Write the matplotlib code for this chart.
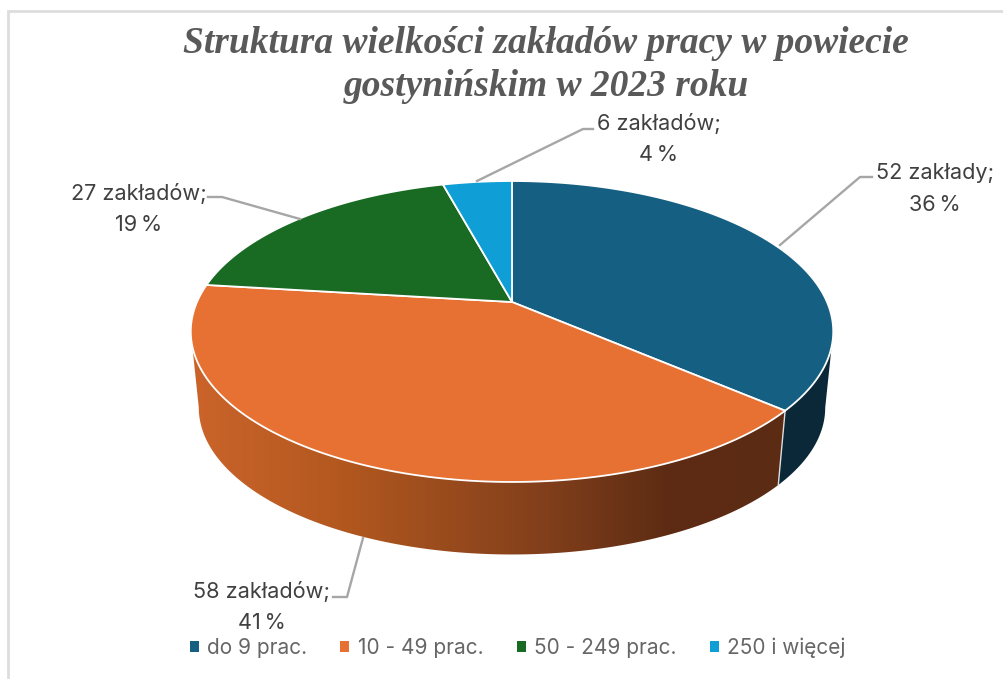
import numpy as np
import matplotlib
matplotlib.use("Agg")
import matplotlib.pyplot as plt
from matplotlib.patches import Polygon, Patch
from matplotlib.colors import LinearSegmentedColormap

categories = ["do 9 prac.", "10 - 49 prac.", "50 - 249 prac.", "250 i więcej"]
counts = [52, 58, 27, 6]
count_labels = ["52 zakłady;", "58 zakładów;", "27 zakładów;", "6 zakładów;"]
percents = [36, 41, 19, 4]
colors = ["#156082", "#E67132", "#196B24", "#0F9ED5"]
title = "Struktura wielkości zakładów pracy w powiecie\ngostynińskim w 2023 roku"

FONT = "Inter"
W, H = 1004, 679
fig = plt.figure(figsize=(W / 100, H / 100), dpi=100, facecolor="white")
ax = fig.add_axes([0, 0, 1, 1])
ax.set_xlim(0, W)
ax.set_ylim(H, 0)
ax.axis("off")

# perspective projection of the unit disc
CX, CY, BX, BY, P = 512, 302, 315, 144.7, 0.196
SHRINK, DEPTH = 0.975, 77


def top(theta):
    u, v = np.sin(theta), np.cos(theta)
    d = 1 + P * v
    return CX + BX * u / d, CY - BY * v / d


def bottom(theta):
    x, y = top(theta)
    return CX + (x - CX) * SHRINK, CY + DEPTH + (y - CY) * SHRINK


edges = np.cumsum([0] + counts) / sum(counts) * 2 * np.pi

# frame
ax.plot([8, 8, W], [H, 11, 11], color="#dddddd", lw=2, solid_joinstyle="miter", zorder=1)

# side walls: only the front part of the rim is visible
VIS_R = np.arccos(-P)
VIS_L = 2 * np.pi - VIS_R
orange_cmap = LinearSegmentedColormap.from_list(
    "wall", [(0, "#cb642b"), (0.25, "#b2581f"), (0.58, "#823f1b"), (0.78, "#5e2c14"), (1, "#5c2b13")])
wall_colors = ["#0a2838", None, "#0d3613", "#084f6b"]
for i in range(len(counts)):
    lo, hi = max(edges[i], VIS_R), min(edges[i + 1], VIS_L)
    if lo >= hi:
        continue
    th = np.linspace(lo, hi, 300)
    xt, yt = top(th)
    xb, yb = bottom(th)
    pts = np.column_stack([np.r_[xt, xb[::-1]], np.r_[yt, yb[::-1]]])
    if wall_colors[i] is None:
        poly = Polygon(pts, closed=True, fc="none", ec="none", transform=ax.transData)
        ax.add_patch(poly)
        grad = np.linspace(0, 1, 256).reshape(1, -1)
        im = ax.imshow(grad, cmap=orange_cmap, aspect="auto", extent=(190, 800, 580, 280), zorder=2)
        im.set_clip_path(poly)
    else:
        ax.add_patch(Polygon(pts, closed=True, fc=wall_colors[i], ec="none", zorder=2))

# seam between the dark and the orange wall
sx, sy = top(edges[1])
bx, by = bottom(edges[1])
ax.plot([sx, bx], [sy, by], color="#dddddd", lw=1.0, zorder=3)
ax.set_xlim(0, W)
ax.set_ylim(H, 0)

# top faces
for i in range(len(counts)):
    th = np.linspace(edges[i], edges[i + 1], 300)
    xt, yt = top(th)
    pts = np.column_stack([np.r_[CX, xt], np.r_[CY, yt]])
    ax.add_patch(Polygon(pts, closed=True, fc=colors[i], ec="white", lw=1.3,
                         joinstyle="round", zorder=4))

# data labels and leader lines
label_pos = [(935, 189), (262, 607), (139, 209), (659, 139)]
leaders = [
    [(780, 245), (860, 177), (872, 177)],
    [(363, 538), (347, 597), (333, 597)],
    [(300, 219), (222, 197), (208, 197)],
    [(477, 181), (583, 129), (593, 129)],
]
for c, p, pos, l in zip(count_labels, percents, label_pos, leaders):
    ax.text(pos[0], pos[1], f"{c}\n{p}\u2009%", ha="center", va="center", fontsize=15.6,
            color="#404040", family=[FONT, "DejaVu Sans"], linespacing=1.72, zorder=6)
    lx, ly = zip(*l)
    ax.plot(lx, ly, color="#a6a6a6", lw=1.7, zorder=5)

# title
ax.text(546, 65, title, ha="center", va="center", fontsize=27, color="#595959",
        family="Liberation Serif", weight="bold", style="italic", linespacing=1.26, zorder=6)

# legend
handles = [Patch(fc=c, ec="none", label=n) for c, n in zip(colors, categories)]
fig.legend(handles=handles, loc="center", bbox_to_anchor=(517.5 / W, 1 - 648 / H), ncols=4,
           frameon=False, handlelength=0.43, handleheight=0.43, handletextpad=0.4,
           columnspacing=1.6, labelcolor="#666666",
           prop={"family": FONT, "size": 15})

fig.savefig("out.png", dpi=100, facecolor="white")
